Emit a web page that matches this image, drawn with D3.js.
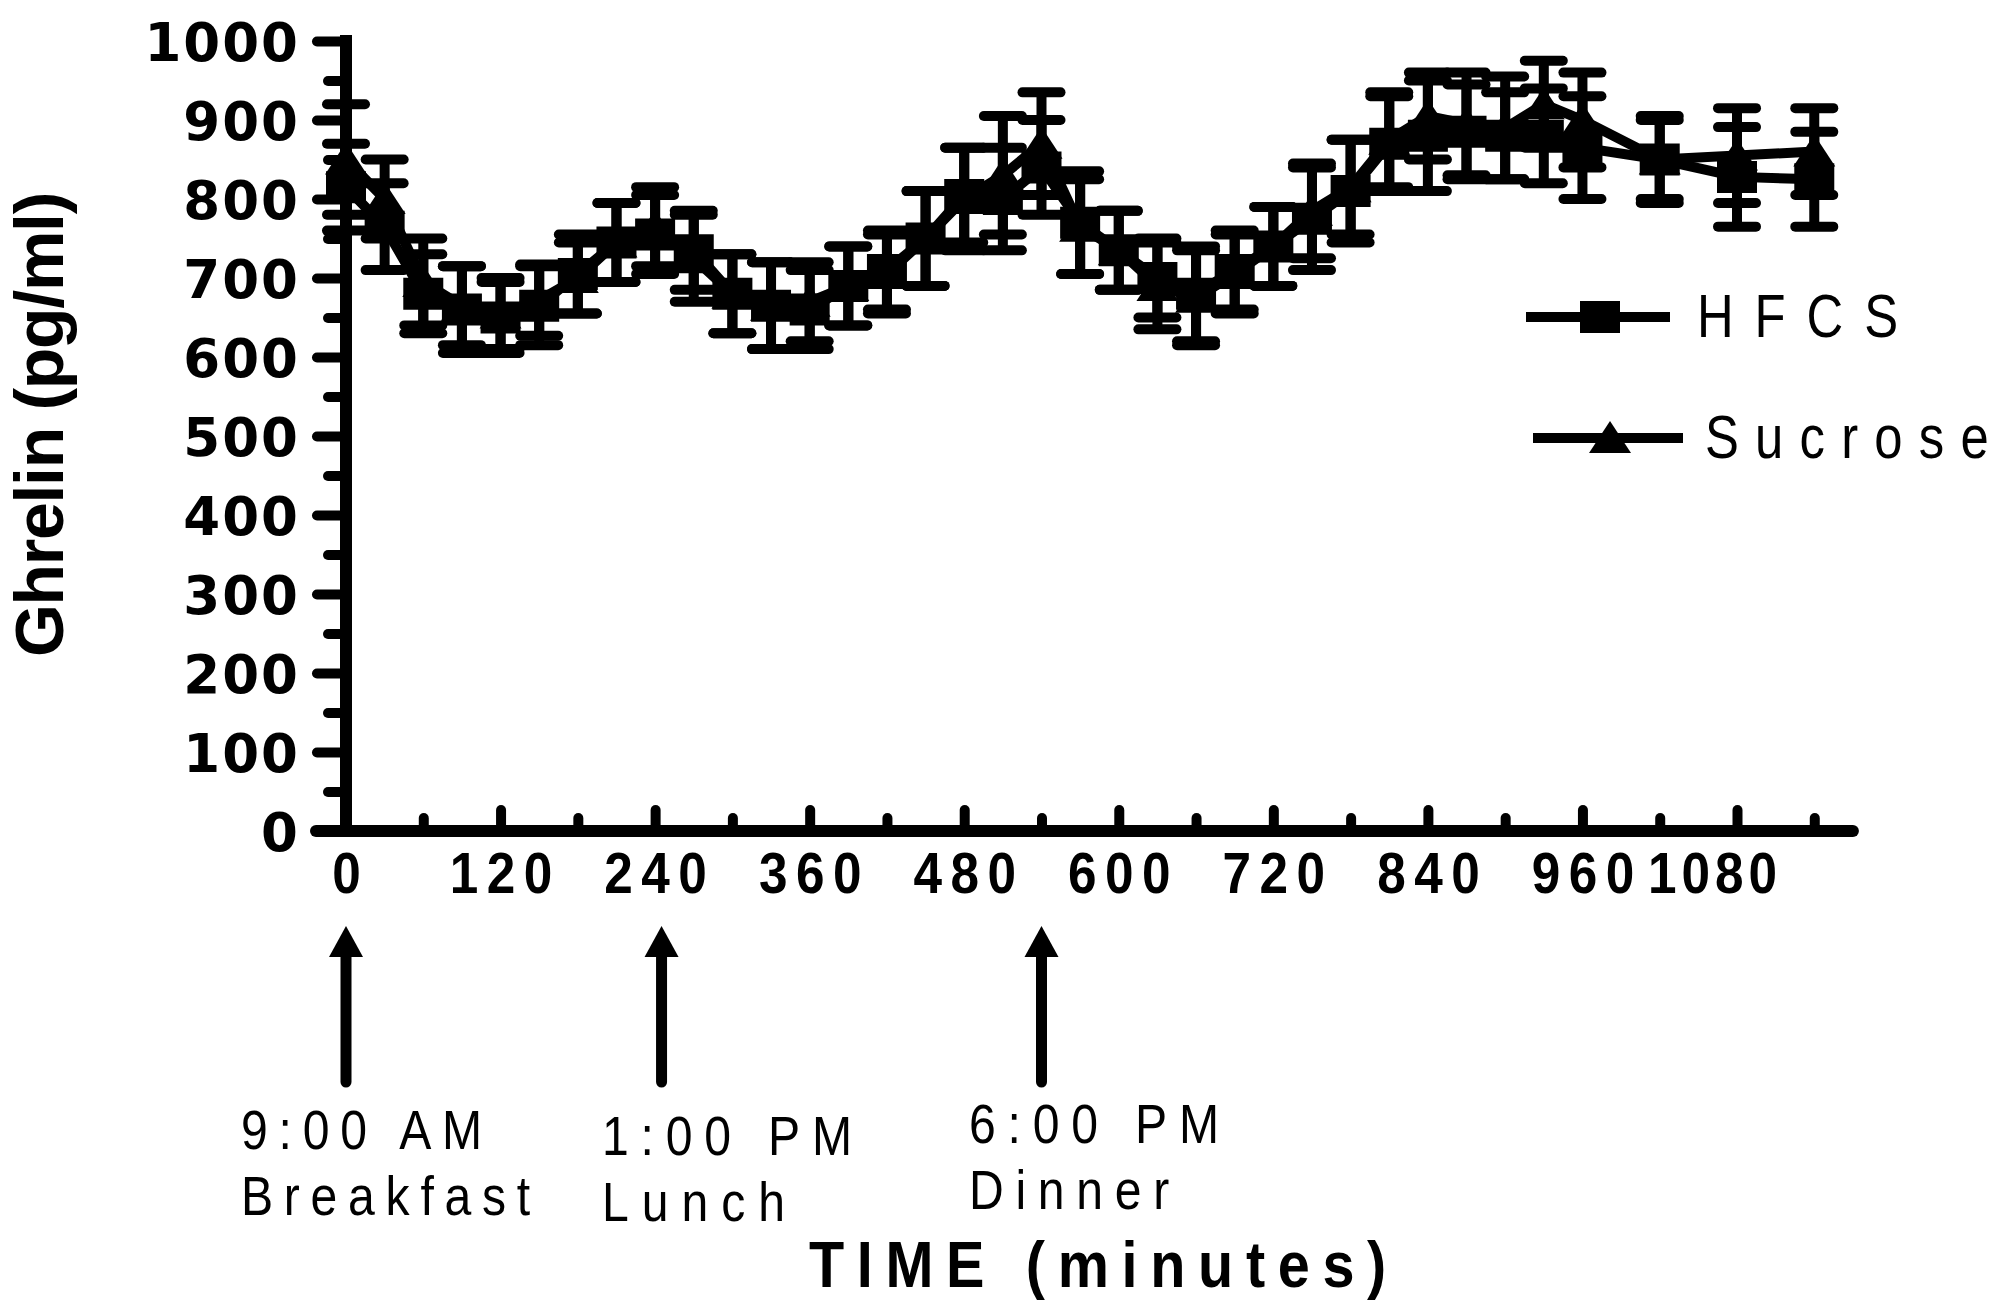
<!DOCTYPE html>
<html>
<head>
<meta charset="utf-8">
<script src="https://cdn.jsdelivr.net/npm/d3@7"></script>
<style>
body { margin: 0; background: #fff; }
svg { display: block; }
text { font-family: "Liberation Sans", Arial, sans-serif; fill: #000; }
</style>
</head>
<body>
<div id="chart"></div>
<script>
// sample times (minutes after 9:00 AM)
var times = [0, 30, 60, 90, 120, 150, 180, 210, 240, 270, 300, 330, 360, 390, 420, 450, 480, 510,
	540, 570, 600, 630, 660, 690, 720, 750, 780, 810, 840, 870, 900, 930, 960, 1020, 1080, 1140];

// ghrelin pg/ml, mean and SEM
var hfcs = [815, 765, 680, 660, 650, 665, 705, 745, 755, 735, 680, 665, 660, 690, 710, 750, 805, 800,
	840, 770, 735, 700, 680, 710, 740, 775, 810, 870, 880, 885, 880, 880, 865, 850, 828, 825];
var hfcsErr = [55, 55, 50, 55, 45, 50, 50, 50, 50, 50, 50, 55, 50, 50, 50, 60, 60, 65,
	60, 65, 50, 50, 60, 50, 50, 65, 65, 60, 70, 60, 55, 60, 65, 55, 63, 60];
var sucrose = [850, 800, 695, 665, 655, 672, 700, 745, 765, 725, 680, 665, 670, 690, 705, 750, 800, 830,
	870, 765, 735, 690, 675, 705, 740, 785, 815, 875, 905, 895, 890, 920, 900, 850, 855, 860];
var sucroseErr = [70, 50, 55, 50, 45, 45, 45, 50, 50, 55, 50, 55, 50, 50, 50, 60, 65, 75,
	65, 60, 50, 55, 60, 50, 50, 60, 60, 60, 55, 65, 65, 55, 60, 50, 60, 55];

var xTicks = [0, 120, 240, 360, 480, 600, 720, 840, 960, 1080];
var xMinor = [60, 180, 300, 420, 540, 660, 780, 900, 1020, 1140];
var yTicks = [0, 100, 200, 300, 400, 500, 600, 700, 800, 900, 1000];
var yMinor = [50, 150, 250, 350, 450, 550, 650, 750, 850, 950];

var mealTimes = [0, 245, 540];
var mealClock = ["9:00 AM", "1:00 PM", "6:00 PM"];
var mealNames = ["Breakfast", "Lunch", "Dinner"];

var seriesNames = ["HFCS", "Sucrose"];

// layout of the meal labels (pixels)
var mealLabelX = [241, 602, 969];
var mealLabelY = [1149, 1155, 1143];
var mealClockW = [252, 262, 262];
var mealNameW = [300, 196, 212];

var svg = d3.select("#chart").append("svg")
	.attr("width", 2007)
	.attr("height", 1304);

svg.append("rect").attr("width", 2007).attr("height", 1304).attr("fill", "#fff");

var x = d3.scaleLinear().domain([0, 1080]).range([346, 1737]);
var y = d3.scaleLinear().domain([0, 1000]).range([831, 41]);

// narrow the glyphs by c and spread them so the run ends up `width` wide
function squeeze(sel, width, c) {
	sel.each(function(d, i) {
		var t = d3.select(this);
		var w = typeof width === "function" ? width(t.text(), i) : width;
		var n = t.text().length;
		var L0 = this.getComputedTextLength();
		var ls = (w / c - L0) / n;
		var x0 = +t.attr("x") || 0;
		t.style("letter-spacing", ls + "px")
			.attr("transform", "translate(" + x0 + ",0) scale(" + c + ",1) translate(" + (-x0) + ",0)");
		if (t.attr("text-anchor") === "middle") {
			t.attr("dx", ls / 2);
		}
	});
}

// ---- y axis
var yMinorAxis = svg.append("g").attr("transform", "translate(" + x(0) + ",0)")
	.call(d3.axisLeft(y).tickValues(yMinor).tickSize(18).tickFormat(""));
var yAxis = svg.append("g").attr("transform", "translate(" + x(0) + ",0)")
	.call(d3.axisLeft(y).tickValues(yTicks).tickSize(29).tickPadding(17).tickFormat(d3.format("d")));

// ---- x axis (ticks point up into the plot)
var xMinorAxis = svg.append("g").attr("transform", "translate(0," + y(0) + ")")
	.call(d3.axisBottom(x).tickValues(xMinor).tickSize(-13).tickFormat(""));
var xAxis = svg.append("g").attr("transform", "translate(0," + y(0) + ")")
	.call(d3.axisBottom(x).tickValues(xTicks).tickSize(-21).tickFormat(d3.format("d")));

[yMinorAxis, yAxis, xMinorAxis, xAxis].forEach(function(g) {
	g.select(".domain").remove();
	g.selectAll(".tick line")
		.attr("stroke", "#000")
		.attr("stroke-width", 10)
		.attr("stroke-linecap", "round");
});

yAxis.selectAll(".tick text")
	.attr("dy", "0.36em")
	.style("font-family", "'DejaVu Sans', sans-serif")
	.style("font-weight", "bold")
	.style("font-size", "53px")
	.style("letter-spacing", "2px");

// the four-digit label sits a little left of its tick
xAxis.selectAll(".tick text")
	.attr("x", function(d) { return d >= 1000 ? -25 : 0; })
	.attr("y", 62)
	.attr("dy", null)
	.attr("text-anchor", "middle")
	.style("font-weight", "bold")
	.style("font-size", "57px")
	.call(squeeze, function(s) { return s.length === 4 ? 134 : s.length * 37; }, 0.9);

// spine and baseline
svg.append("line")
	.attr("x1", x(0)).attr("x2", x(0))
	.attr("y1", y(1000) - 6).attr("y2", y(0))
	.attr("stroke", "#000").attr("stroke-width", 12);
svg.append("line")
	.attr("x1", 316).attr("x2", x(1170))
	.attr("y1", y(0)).attr("y2", y(0))
	.attr("stroke", "#000").attr("stroke-width", 12)
	.attr("stroke-linecap", "round");

// ---- series
var series = [
	{name: seriesNames[0], mean: hfcs, err: hfcsErr, marker: "square"},
	{name: seriesNames[1], mean: sucrose, err: sucroseErr, marker: "triangle"}
];

var line = d3.line()
	.x(function(d) { return x(d.t); })
	.y(function(d) { return y(d.v); });

function markerPath(type, cx, cy) {
	if (type === "square") {
		return "M" + (cx - 20) + "," + (cy - 16) + "h40v32h-40Z";
	}
	return "M" + cx + "," + (cy - 17) + "L" + (cx + 21) + "," + (cy + 15) + "L" + (cx - 21) + "," + (cy + 15) + "Z";
}

series.forEach(function(s) {
	var pts = times.map(function(t, i) { return {t: t, v: s.mean[i], e: s.err[i]}; });
	var g = svg.append("g");

	g.append("path")
		.attr("d", line(pts))
		.attr("fill", "none")
		.attr("stroke", "#000")
		.attr("stroke-width", 10)
		.attr("stroke-linejoin", "miter");

	var bars = g.selectAll(".bar").data(pts).enter().append("g");
	bars.append("line")
		.attr("x1", function(d) { return x(d.t); })
		.attr("x2", function(d) { return x(d.t); })
		.attr("y1", function(d) { return y(d.v + d.e); })
		.attr("y2", function(d) { return y(d.v - d.e); })
		.attr("stroke", "#000").attr("stroke-width", 10);
	[1, -1].forEach(function(sign) {
		bars.append("line")
			.attr("x1", function(d) { return x(d.t) - 19; })
			.attr("x2", function(d) { return x(d.t) + 19; })
			.attr("y1", function(d) { return y(d.v + sign * d.e); })
			.attr("y2", function(d) { return y(d.v + sign * d.e); })
			.attr("stroke", "#000").attr("stroke-width", 10)
			.attr("stroke-linecap", "round");
	});

	g.selectAll(".pt").data(pts).enter().append("path")
		.attr("d", function(d) { return markerPath(s.marker, x(d.t), y(d.v)); })
		.attr("fill", "#000");
});

// ---- legend
var legendY = [317, 438];
var legendLineX = [[1526, 1670], [1533, 1683]];
var legendTextX = [1697, 1705];
var legendTextW = [222, 300];
series.forEach(function(s, i) {
	var lx = legendLineX[i];
	svg.append("line")
		.attr("x1", lx[0]).attr("x2", lx[1])
		.attr("y1", legendY[i]).attr("y2", legendY[i])
		.attr("stroke", "#000").attr("stroke-width", 10);
	svg.append("path")
		.attr("d", markerPath(s.marker, (lx[0] + lx[1]) / 2 + 2, legendY[i]))
		.attr("fill", "#000");
	svg.append("text")
		.attr("x", legendTextX[i])
		.attr("y", legendY[i] + 20)
		.style("font-size", "62px")
		.text(s.name)
		.call(squeeze, legendTextW[i], 0.82);
});

// ---- meal arrows
var arrows = svg.selectAll(".meal").data(mealTimes).enter().append("g");
arrows.append("line")
	.attr("x1", function(d) { return x(d); })
	.attr("x2", function(d) { return x(d); })
	.attr("y1", 1082)
	.attr("y2", 950)
	.attr("stroke", "#000").attr("stroke-width", 11)
	.attr("stroke-linecap", "round");
arrows.append("path")
	.attr("d", function(d) { return "M" + x(d) + ",926L" + (x(d) + 17) + ",957L" + (x(d) - 17) + ",957Z"; })
	.attr("fill", "#000");

arrows.append("text")
	.attr("x", function(d, i) { return mealLabelX[i]; })
	.attr("y", function(d, i) { return mealLabelY[i]; })
	.style("font-size", "56px")
	.text(function(d, i) { return mealClock[i]; })
	.call(squeeze, function(s, i) { return mealClockW[i]; }, 0.86);
arrows.append("text")
	.attr("x", function(d, i) { return mealLabelX[i]; })
	.attr("y", function(d, i) { return mealLabelY[i] + 66; })
	.style("font-size", "56px")
	.text(function(d, i) { return mealNames[i]; })
	.call(squeeze, function(s, i) { return mealNameW[i]; }, 0.86);

// ---- axis titles
svg.append("text")
	.attr("x", 809)
	.attr("y", 1287)
	.style("font-size", "64px")
	.style("font-weight", "bold")
	.text("TIME (minutes)")
	.call(squeeze, 590, 0.9);

svg.append("text")
	.attr("transform", "translate(63,425) rotate(-90)")
	.attr("text-anchor", "middle")
	.style("font-size", "68px")
	.style("font-weight", "bold")
	.style("letter-spacing", "-1.3px")
	.text("Ghrelin (pg/ml)");
</script>
</body>
</html>
